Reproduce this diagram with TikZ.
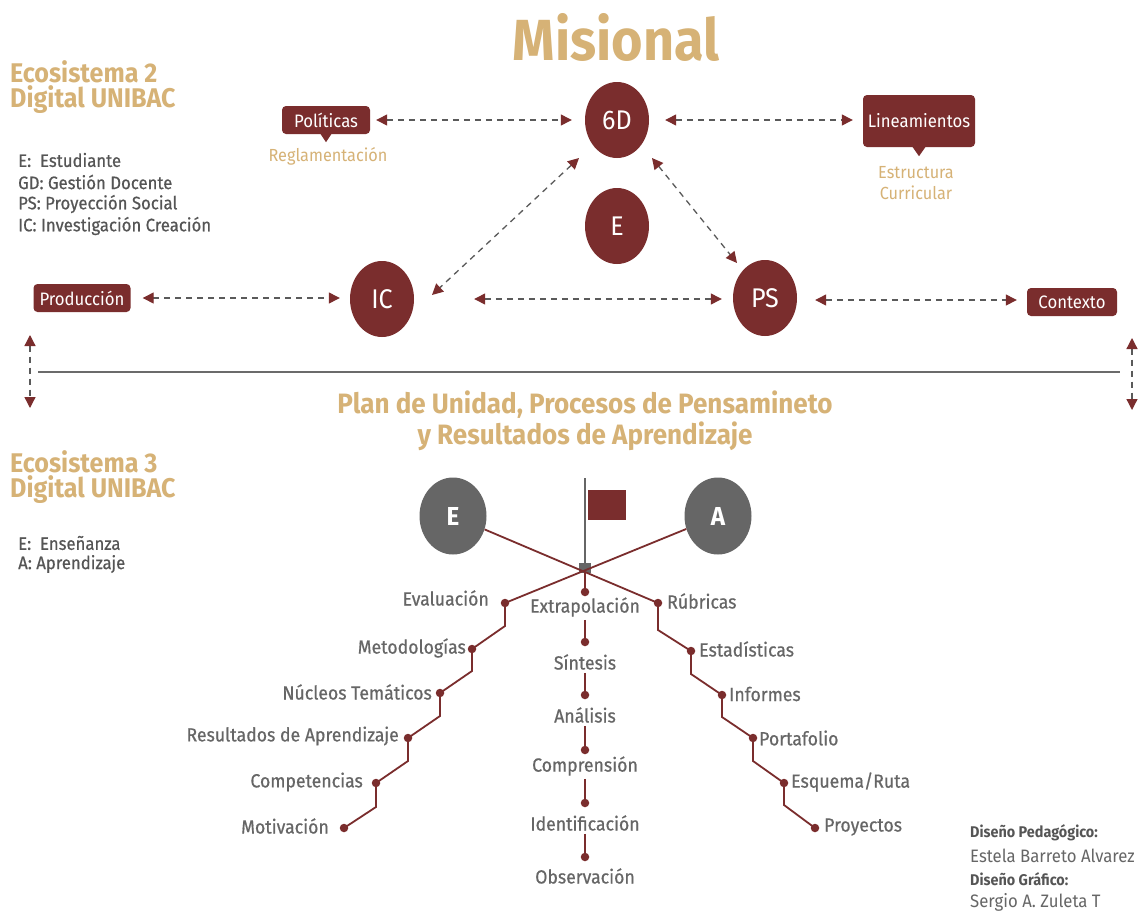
\documentclass[tikz,border=0pt]{standalone}
\usepackage{fontspec}
\setmainfont{Fira Sans}[FakeStretch=0.93]
\newfontfamily\medfont{Fira Sans}[FakeStretch=0.93, FakeBold=0.6]
\usetikzlibrary{arrows.meta,shapes.geometric,calc}
\definecolor{brick}{HTML}{7A2D2D}
\definecolor{gold}{HTML}{D6B276}
\definecolor{txtgray}{HTML}{555555}
\definecolor{lblgray}{HTML}{666666}
\definecolor{circgray}{HTML}{666666}
\definecolor{dashgray}{HTML}{5A5A5A}
\newcommand{\fs}[2][]{\fontsize{#2}{#2}\selectfont}
\begin{document}
\begin{tikzpicture}[x=1pt,y=-1pt,
  >={Triangle[length=11pt,width=11pt,color=brick]},
  mbox/.style={fill=brick, rounded corners=4pt, text=white, font=\fs{18}, inner sep=0pt, minimum height=28pt},
  mcirc/.style={ellipse, fill=brick, text=white, minimum width=64pt, minimum height=76pt, inner sep=0pt, font=\fs{27}},
  gcirc/.style={ellipse, fill=circgray, text=white, minimum width=67pt, minimum height=77pt, inner sep=0pt, font=\bfseries\fs{26}},
  darr/.style={draw=dashgray, line width=1.3pt, dash pattern=on 6pt off 5pt, <->},
  title/.style={text=gold, font=\bfseries\fontsize{27}{25}\selectfont, align=left, inner sep=0pt},
  legend/.style={text=txtgray, font=\medfont\fs{18}, anchor=west, inner sep=0pt},
  sub/.style={text=gold, font=\fontsize{17.5}{21}\selectfont, inner sep=0pt, align=center},
  lbl/.style={text=lblgray, font=\medfont\fs{19}, inner sep=0pt},
  dot/.style={circle, fill=brick, inner sep=0pt, minimum size=8.5pt},
  stair/.style={draw=brick, line width=1.8pt},
  credb/.style={text=txtgray, font=\bfseries\fs{15.5}, anchor=west, inner sep=0pt},
  credn/.style={text=lblgray, font=\fs{18}, anchor=west, inner sep=0pt}
]
\useasboundingbox (0,0) rectangle (1144,916);
\fill[white] (0,0) rectangle (1144,916);

% ---------- Upper part ----------
\node[text=gold, font=\bfseries\fs{58}, inner sep=0pt] (mis) at (616,37) {Misional};
\node[title, anchor=north west] (eco2) at (10,60) {Ecosistema 2\\Digital UNIBAC};

\node[legend] (l1) at (18,160) {E:\ \ Estudiante};
\node[legend] (l2) at (18,182) {GD: Gestión Docente};
\node[legend] (l3) at (18,204) {PS: Proyección Social};
\node[legend] (l4) at (18,226) {IC: Investigación Creación};

\node[mbox, minimum width=88pt] (pol) at (326,120) {Políticas};
\fill[brick] ($(pol.south)+(-6,-1)$) -- ($(pol.south)+(6,-1)$) -- ($(pol.south)+(0,8)$) -- cycle;
\node[sub] (regl) at (328,156) {Reglamentación};

\node[mbox, minimum width=112pt, minimum height=52pt] (lin) at (919,121) {Lineamientos};
\fill[brick] ($(lin.south)+(-7,-1)$) -- ($(lin.south)+(7,-1)$) -- ($(lin.south)+(0,9)$) -- cycle;
\node[sub] (estr) at (916,183) {Estructura\\Curricular};

\node[mcirc] (gd) at (617,120) {6D};
\node[mcirc] (e) at (617,226) {E};
\node[mcirc] (ic) at (382,299) {IC};
\node[mcirc] (ps) at (765,298) {PS};

\node[mbox, minimum width=97pt] (prod) at (82,298) {Producción};
\node[mbox, minimum width=90pt] (ctx) at (1072,302) {Contexto};

\draw[darr, shorten <=6pt, shorten >=13pt] (pol.east) -- (gd.west);
\draw[darr, shorten <=16pt, shorten >=10pt] (gd.east) -- (lin.west |- gd.east);
\draw[darr] ($(gd.center)+(-38,38)$) -- ($(ic.center)+(50,-4)$);
\draw[darr] ($(gd.center)+(35,38)$) -- ($(ps.center)+(-28,-35)$);
\draw[darr, shorten <=12pt, shorten >=10pt] (prod.east) -- (prod.east -| ic.west);
\draw[darr, shorten <=60pt, shorten >=11pt] (ic.east) -- (ic.east -| ps.west);
\draw[darr, shorten <=18pt, shorten >=10pt] ($(ps.east)+(0,2)$) -- ($(ps.east -| ctx.west)+(0,2)$);

\coordinate (lvt) at (30,335);
\coordinate (lvb) at (30,408);
\coordinate (rvt) at (1132,338);
\coordinate (rvb) at (1132,410);
\draw[darr] (lvt) -- (lvb);
\draw[darr] (rvt) -- (rvb);

\coordinate (hl) at (38,372);
\coordinate (hr) at (1120,372);
\draw[draw=dashgray!90, line width=1.4pt] (hl) -- (hr);

% ---------- Lower part ----------
\node[text=gold, font=\bfseries\fs{28}, inner sep=0pt] (plan1) at (585,405) {Plan de Unidad, Procesos de Pensamineto};
\node[text=gold, font=\bfseries\fs{28}, inner sep=0pt] (plan2) at (585,436) {y Resultados de Aprendizaje};
\node[title, anchor=north west] (eco3) at (10,450) {Ecosistema 3\\Digital UNIBAC};
\node[legend] (l5) at (18,543) {E:\ \ Enseñanza};
\node[legend] (l6) at (18,564) {A: Aprendizaje};

\node[gcirc] (ge) at (453,516) {E};
\node[gcirc] (ga) at (718,516) {A};

% flag
\coordinate (poletop) at (585,478);
\node[fill=circgray, minimum width=12pt, minimum height=10pt, inner sep=0pt] (sq) at (585,568) {};
\draw[draw=circgray, line width=1.2pt] (poletop) -- (sq.north);
\node[fill=brick, minimum width=38pt, minimum height=30pt, inner sep=0pt, anchor=north west] (flag) at (588,490) {};

% left staircase
\node[dot] (L1) at (505,603) {};
\node[dot] (L2) at (472,649) {};
\node[dot] (L3) at (440,693) {};
\node[dot] (L4) at (408,738) {};
\node[dot] (L5) at (376,783) {};
\node[dot] (L6) at (344,828) {};
% right staircase
\node[dot] (R1) at (658,603) {};
\node[dot] (R2) at (691,651) {};
\node[dot] (R3) at (722,695) {};
\node[dot] (R4) at (753,738) {};
\node[dot] (R5) at (784,783) {};
\node[dot] (R6) at (815,828) {};

\draw[stair] (ge) -- (R1.center);
\draw[stair] (ga) -- (L1.center);

\draw[stair] (L1.center) -- ++(0,23) -- (L2.center) -- ++(0,22) -- (L3.center) -- ++(0,23) -- (L4.center) -- ++(0,23) -- (L5.center) -- ++(0,24) -- (L6.center);
\draw[stair] (R1.center) -- ++(0,27) -- (R2.center) -- ++(0,23) -- (R3.center) -- ++(0,22) -- (R4.center) -- ++(0,23) -- (R5.center) -- ++(0,22) -- (R6.center);

\node[lbl, anchor=east] at (489,598) {Evaluación};
\node[lbl, anchor=east] at (466,648) {Metodologías};
\node[lbl, anchor=east] at (432,692) {Núcleos Temáticos};
\node[lbl, anchor=east] at (399,736) {Resultados de Aprendizaje};
\node[lbl, anchor=east] at (363,782) {Competencias};
\node[lbl, anchor=east] at (329,826) {Motivación};

\node[lbl, anchor=west] at (667,601) {Rúbricas};
\node[lbl, anchor=west] at (699,649) {Estadísticas};
\node[lbl, anchor=west] at (729,694) {Informes};
\node[lbl, anchor=west] at (759,738) {Portafolio};
\node[lbl, anchor=west] at (791,782) {Esquema/Ruta};
\node[lbl, anchor=west] at (824,827) {Proyectos};

% centre column
\node[dot] (C1) at (585,592) {};
\node[lbl] (t1) at (585,607) {Extrapolación};
\node[dot] (C2) at (585,642) {};
\node[lbl] (t2) at (585,662) {Síntesis};
\node[dot] (C3) at (585,695) {};
\node[lbl] (t3) at (585,715) {Análisis};
\node[dot] (C4) at (585,750) {};
\node[lbl] (t4) at (585,766) {Comprensión};
\node[dot] (C5) at (585,803) {};
\node[lbl] (t5) at (585,823) {Identificación};
\node[dot] (C6) at (585,857) {};
\node[lbl] (t6) at (585,876) {Observación};

\draw[stair] (sq.south) -- (C1.center);
\draw[stair] ($(t1.south)+(0,3)$) -- (C2.center);
\draw[stair] ($(t2.south)+(0,3)$) -- (C3.center);
\draw[stair] ($(t3.south)+(0,3)$) -- (C4.center);
\draw[stair] ($(t4.south)+(0,3)$) -- (C5.center);
\draw[stair] ($(t5.south)+(0,3)$) -- (C6.center);

% credits
\node[credb] (c1) at (970,833) {Diseño Pedagógico:};
\node[credn] (c2) at (970,856) {Estela Barreto Alvarez};
\node[credb] (c3) at (970,879) {Diseño Gráfico:};
\node[credn] (c4) at (970,902) {Sergio A. Zuleta T};
\end{tikzpicture}
\end{document}
